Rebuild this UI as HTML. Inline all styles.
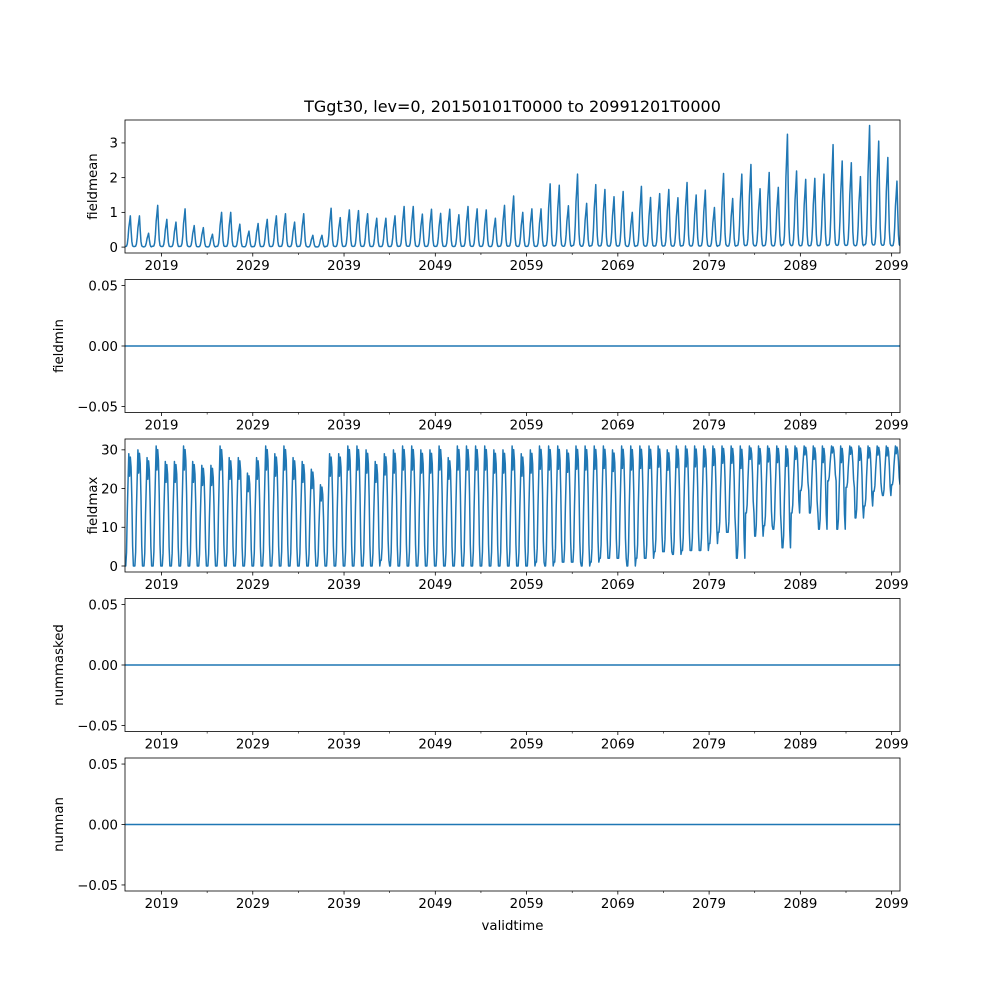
<!DOCTYPE html>
<html><head><meta charset="utf-8">
<style>
html,body{margin:0;padding:0;background:#fff;}
svg{display:block;font-family:"DejaVu Sans","Liberation Sans",sans-serif;}
</style></head>
<body>
<svg id="fig" width="1000" height="1000" viewBox="0 0 1000 1000" xmlns="http://www.w3.org/2000/svg">
<rect x="0" y="0" width="1000" height="1000" fill="#fff"/>
<text x="512.5" y="112" font-size="16" text-anchor="middle">TGgt30, lev=0, 20150101T0000 to 20991201T0000</text>
<text x="512.5" y="930" font-size="13.3" text-anchor="middle">validtime</text>
</svg>
<script>
// ---- data ----
const years = [];
for (let y = 2015; y <= 2099; y++) years.push(y);
const xTickLabels = ['2019','2029','2039','2049','2059','2069','2079','2089','2099'];
const xTickYears = [2019,2029,2039,2049,2059,2069,2079,2089,2099];
const xMinorYears = [2024,2034,2044,2054,2064,2074,2084,2094];

// fieldmean annual peak values (2015..2099)
const fieldmeanPeak = [0.9,0.9,0.4,1.2,0.8,0.72,1.1,0.62,0.56,0.37,1.0,1.0,0.66,0.46,0.68,0.8,0.9,0.96,0.72,0.96,
0.34,0.34,1.12,0.85,1.07,1.05,0.96,0.83,0.83,0.9,1.17,1.17,0.95,1.09,0.97,1.09,0.93,1.17,1.1,1.07,0.83,
1.2,1.47,1.0,1.1,1.1,1.82,1.78,1.19,2.1,1.26,1.8,1.66,1.45,1.6,1.0,1.75,1.43,1.54,1.66,1.42,1.86,1.5,1.64,1.14,
2.12,1.4,2.1,2.38,1.68,2.15,1.72,3.25,2.19,1.95,1.98,2.1,2.95,2.48,2.43,2.03,3.5,3.05,2.58,1.9];
// seasonal profile of fieldmean (Jan..Dec)
const fieldmeanProfile = [0.02,0.02,0.03,0.1,0.3,0.62,0.8,1.0,0.55,0.18,0.04,0.02];

// fieldmax annual peak and winter trough (2015..2099)
const fieldmaxPeak = [29,30,28,31,27,27,31,27,26,26,31,28,28,24,28,31,29,31,28,27,25,21,29,29,31,31,30,27,29,30,
31,31,30,30,31,28,31,31,31,31,30,
30,31,29,30,31,31,31,30,31,31,31,31,30,31,31,31,31,31,30,31,31,31,31,31,31,31,31,31,31,31,31,31,31,31,31,31,31,31,31,31,31,31,31,31];
const fieldmaxTrough = [0,0,0,0,0,0,0,0,0,0,0,0,0,0,0,0,0,0,0,0,0,0,0,0,0,0,0,0,1.5,0,0,0,0,0,0,0,0,0,0,0,0,
0,0,0,0,1,0,1,1,1,0,1,2,2,2,0,2,2,3.7,3.7,3,4,4,4,5.8,8.7,8.7,2,13.7,7.7,10.4,9.5,4.7,13.7,19.5,13.7,9.5,22,9.5,20.3,12.4,15.5,19.3,18.2,21];
const fieldmaxProfile = [0,0,0.12,0.48,0.75,1.0,0.8,0.97,0.88,0.6,0.18,0.0];

const fieldmeanMonthly = [], fieldmaxMonthly = [], monthTimes = [];
years.forEach((y, i) => {
  for (let m = 0; m < 12; m++) {
    monthTimes.push(y + m / 12);
    fieldmeanMonthly.push(fieldmeanPeak[i] * fieldmeanProfile[m]);
    const p = fieldmaxProfile[m];
    fieldmaxMonthly.push(fieldmaxPeak[i] * p + fieldmaxTrough[i] * (1 - p));
  }
});
const fieldminMonthly = monthTimes.map(() => 0);
const nummaskedMonthly = monthTimes.map(() => 0);
const numnanMonthly = monthTimes.map(() => 0);

// ---- layout ----
const NS = 'http://www.w3.org/2000/svg';
const svg = document.getElementById('fig');
const L = 125, R = 900, H = 133;
const tMin = 2015, tMax = 2099 + 11/12;
const xScale = t => L + (t - tMin) / (tMax - tMin) * (R - L);

const panels = [
  {name:'fieldmean', top:120, ymin:-0.17, ymax:3.66, ticks:[0,1,2,3], labels:['0','1','2','3'], data:fieldmeanMonthly},
  {name:'fieldmin', top:279.5, ymin:-0.055, ymax:0.055, ticks:[-0.05,0,0.05], labels:['\u22120.05','0.00','0.05'], data:fieldminMonthly},
  {name:'fieldmax', top:439, ymin:-1.55, ymax:32.8, ticks:[0,10,20,30], labels:['0','10','20','30'], data:fieldmaxMonthly},
  {name:'nummasked', top:598.5, ymin:-0.055, ymax:0.055, ticks:[-0.05,0,0.05], labels:['\u22120.05','0.00','0.05'], data:nummaskedMonthly},
  {name:'numnan', top:758, ymin:-0.055, ymax:0.055, ticks:[-0.05,0,0.05], labels:['\u22120.05','0.00','0.05'], data:numnanMonthly}
];

function mk(tag, attrs, parent) {
  const e = document.createElementNS(NS, tag);
  for (const k in attrs) e.setAttribute(k, attrs[k]);
  (parent || svg).appendChild(e);
  return e;
}

panels.forEach(p => {
  const g = mk('g', {});
  
  
  const bottom = p.top + H;
  const yScale = v => bottom - (v - p.ymin) / (p.ymax - p.ymin) * H;

  let d = '';
  p.data.forEach((v, i) => { d += (i ? 'L' : 'M') + xScale(monthTimes[i]).toFixed(2) + ',' + yScale(v).toFixed(2); });
  const clipId = 'clip-' + p.name;
  const cp = mk('clipPath', {id: clipId}, g);
  mk('rect', {x: L, y: p.top, width: R - L, height: H}, cp);
  const line = mk('path', {d: d, fill: 'none', stroke: '#1f77b4', 'stroke-width': 1.5, 'stroke-linejoin': 'round', 'clip-path': 'url(#' + clipId + ')'}, g);
  
  

  const fr = mk('rect', {x: L, y: p.top, width: R - L, height: H, fill: 'none', stroke: '#000', 'stroke-width': 0.8}, g);
  
  

  xTickYears.forEach((yr, i) => {
    const x = xScale(yr);
    mk('line', {x1: x, x2: x, y1: bottom, y2: bottom + 3.5, stroke: '#000', 'stroke-width': 0.8}, g);
    const t = mk('text', {x: x, y: bottom + 17, 'font-size': 13.3, 'text-anchor': 'middle'}, g);
    t.textContent = xTickLabels[i];
    
    
  });
  xMinorYears.forEach(yr => {
    const x = xScale(yr);
    mk('line', {x1: x, x2: x, y1: bottom, y2: bottom + 2, stroke: '#000', 'stroke-width': 0.6}, g);
  });
  p.ticks.forEach((v, i) => {
    const y = yScale(v);
    mk('line', {x1: L - 3.5, x2: L, y1: y, y2: y, stroke: '#000', 'stroke-width': 0.8}, g);
    const t = mk('text', {x: L - 7, y: y + 4.8, 'font-size': 13.3, 'text-anchor': 'end'}, g);
    t.textContent = p.labels[i];
    
    
  });
  const yl = mk('text', {x: 0, y: 0, 'font-size': 13.3, 'text-anchor': 'middle', transform: 'translate(' + (p.ticks.length === 3 ? 63 : 97) + ',' + (p.top + H / 2) + ') rotate(-90)'}, g);
  yl.textContent = p.name;
  
  
});
</script>
</body></html>
